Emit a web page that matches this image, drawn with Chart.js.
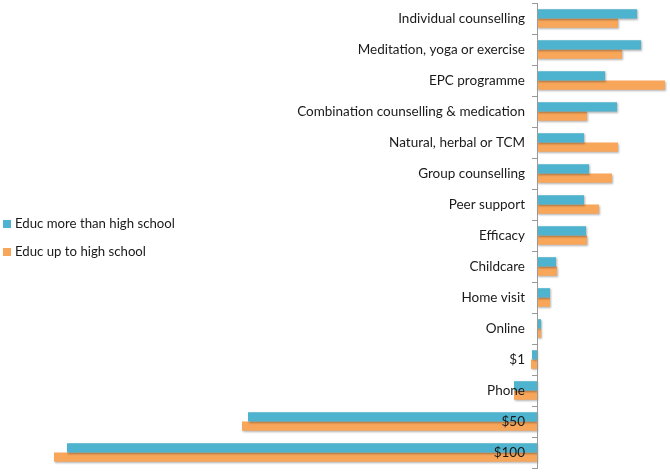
<!DOCTYPE html>
<html>
<head>
<meta charset="utf-8">
<script src="https://cdn.jsdelivr.net/npm/chart.js@4.4.1/dist/chart.umd.min.js"></script>
<style>
  html, body { margin: 0; padding: 0; background: #fff; }
  #wrap { position: relative; width: 670px; height: 473px; }
  #legend { position: absolute; left: 3px; top: 213px; font-family: Lato, sans-serif; font-size: 13.2px; color: #1a1a1a; }
  #legend div { height: 28px; line-height: 20px; white-space: nowrap; }
  #legend span { display: inline-block; width: 8px; height: 8px; margin-right: 4px; vertical-align: 0px; }
</style>
</head>
<body>
<div id="wrap">
  <canvas id="chart" width="670" height="473"></canvas>
  <div id="legend"></div>
</div>
<script>
const categories = [
  "Individual counselling", "Meditation, yoga or exercise", "EPC programme",
  "Combination counselling & medication", "Natural, herbal or TCM", "Group counselling",
  "Peer support", "Efficacy", "Childcare", "Home visit", "Online", "$1", "Phone", "$50", "$100"
];
const moreThanHighSchool = [1.00, 1.04, 0.68, 0.80, 0.47, 0.52, 0.47, 0.49, 0.19, 0.13, 0.04, -0.05, -0.23, -2.89, -4.70];
const upToHighSchool = [0.81, 0.85, 1.28, 0.50, 0.81, 0.75, 0.62, 0.50, 0.20, 0.13, 0.04, -0.06, -0.23, -2.95, -4.83];
const seriesNames = ["Educ more than high school", "Educ up to high school"];
const seriesColors = ["#4DB3CF", "#F8A65A"];

const shadow = {
  id: "shadow",
  beforeDatasetsDraw(chart) {
    chart.ctx.save();
    chart.ctx.shadowColor = "rgba(0,0,0,0.3)";
    chart.ctx.shadowBlur = 2;
    chart.ctx.shadowOffsetX = 1;
    chart.ctx.shadowOffsetY = 1;
  },
  afterDatasetsDraw(chart) {
    chart.ctx.restore();
  }
};

const chart = new Chart(document.getElementById("chart"), {
  type: "bar",
  data: {
    labels: categories,
    datasets: [
      { label: seriesNames[0], data: moreThanHighSchool, backgroundColor: seriesColors[0] },
      { label: seriesNames[1], data: upToHighSchool, backgroundColor: seriesColors[1] }
    ]
  },
  options: {
    indexAxis: "y",
    responsive: false,
    animation: false,
    categoryPercentage: 0.6,
    barPercentage: 1.0,
    layout: { padding: { left: 40, right: 2, top: 3, bottom: 5 } },
    plugins: { legend: { display: false }, tooltip: { enabled: false } },
    scales: {
      x: { display: false, min: -4.97, max: 1.31 },
      // labels, sitting just left of the zero line
      y: {
        position: { x: -0.12 },
        grid: { offset: true, drawOnChartArea: false, drawTicks: true, tickLength: 5, tickColor: "rgba(0,0,0,0)" },
        border: { display: false },
        ticks: { z: 1, padding: 0, color: "#1a1a1a", font: { family: "Lato", size: 13.5, lineHeight: 0.4 } }
      },
      // the zero line itself with its tick marks
      y2: {
        type: "category",
        position: { x: 0 },
        grid: { offset: true, drawOnChartArea: false, drawTicks: true, tickLength: 5, color: "#999" },
        border: { display: true, color: "#999", z: 1 },
        ticks: { display: false }
      }
    }
  },
  plugins: [shadow]
});

document.getElementById("legend").innerHTML = seriesNames
  .map((name, i) => `<div><span style="background:${seriesColors[i]}"></span>${name}</div>`)
  .join("");
</script>
</body>
</html>
